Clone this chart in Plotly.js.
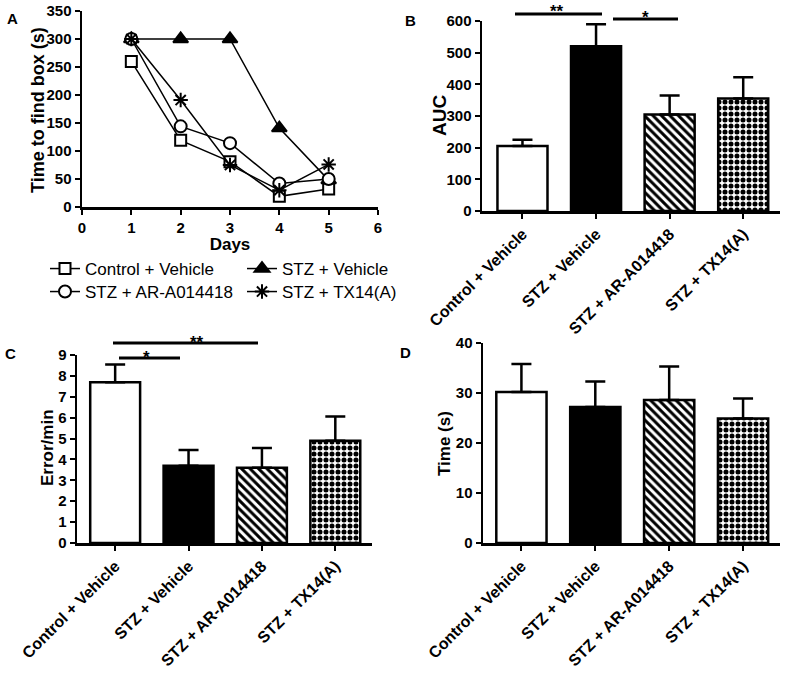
<!DOCTYPE html>
<html><head><meta charset="utf-8">
<script src="https://cdn.plot.ly/plotly-3.0.1.min.js"></script>
<style>html,body{margin:0;padding:0;background:#fff}#chart{width:785px;height:674px}</style>
</head><body><div id="chart"></div>
<script>
// ---- Panel A data ----
const days = [1, 2, 3, 4, 5];
const ctrlVehTime = [260, 119, 81, 19, 32];
const stzVehTime = [300, 300, 300, 141, 48];
const stzArTime = [300, 144, 114, 42, 50];
const stzTxTime = [300, 191, 75, 30, 76];

// ---- Panels B-D data ----
const groups = ['Control + Vehicle', 'STZ + Vehicle', 'STZ + AR-A014418', 'STZ + TX14(A)'];
const aucMean = [205, 520, 305, 355];
const aucErr = [20, 70, 60, 67];
const errMean = [7.7, 3.7, 3.6, 4.9];
const errErr = [0.85, 0.75, 0.95, 1.15];
const timeMean = [30.2, 27.2, 28.6, 24.9];
const timeErr = [5.6, 5.1, 6.7, 4.0];

// fill colour (plain bars) or pattern ink colour (patterned bars)
const barColors = ['white', 'black', 'black', 'black'];
const barPatterns = ['', '', '\\', '.'];

const W = 785, H = 674;
const fx = p => p / W;
const fy = p => 1 - p / H;
const FONT = 'Liberation Sans, Arial, Helvetica, sans-serif';
const tickFont = {family: FONT, size: 15, color: 'black', weight: 'bold'};

function lineTrace(name, y, symbol, color, legend, size) {
  return {
    type: 'scatter', mode: 'lines+markers', name: name, x: days, y: y,
    xaxis: 'x', yaxis: 'y', legend: legend,
    line: {color: 'black', width: 1.5},
    marker: {symbol: symbol, size: size || 11, color: color, line: {color: 'black', width: 2}}
  };
}

function barTrace(means, errs, xa, ya) {
  return {
    type: 'bar', x: groups, y: means, xaxis: xa, yaxis: ya, width: 0.68, showlegend: false,
    marker: {
      color: barColors,
      line: {color: 'black', width: 2.5},
      pattern: {shape: barPatterns, size: [6, 6, 6, 6], solidity: [0.5, 0.5, 0.5, 0.55], fillmode: 'replace'}
    },
    error_y: {type: 'data', symmetric: false, array: errs, arrayminus: errs.map(() => 0),
      color: 'black', thickness: 2.5, width: 10}
  };
}

const traces = [
  lineTrace('Control + Vehicle', ctrlVehTime, 'square', 'white', 'legend', 11),
  lineTrace('STZ + Vehicle', stzVehTime, 'triangle-up', 'black', 'legend', 13),
  lineTrace('STZ + AR-A014418', stzArTime, 'circle', 'white', 'legend2', 12),
  lineTrace('STZ + TX14(A)', stzTxTime, 'asterisk-open', 'black', 'legend2', 12),
  barTrace(aucMean, aucErr, 'x2', 'y2'),
  barTrace(errMean, errErr, 'x3', 'y3'),
  barTrace(timeMean, timeErr, 'x4', 'y4')
];

function axisBase() {
  return {showline: true, linecolor: 'black', linewidth: 2.5, ticks: 'outside', ticklen: 5,
    tickwidth: 2, tickcolor: 'black', showgrid: false, zeroline: false, tickfont: tickFont,
    fixedrange: true, automargin: false};
}
function catX(domain, anchor, r0) {
  return Object.assign(axisBase(), {domain: domain, anchor: anchor, type: 'category',
    range: [r0, 3.5], tickangle: -45, tickfont: {family: FONT, size: 16, color: 'black', weight: 'bold'}});
}
function ann(text, px, py, size, angle) {
  return {text: text, x: fx(px), y: fy(py), xref: 'paper', yref: 'paper', showarrow: false,
    xanchor: 'center', yanchor: 'middle', textangle: angle || 0,
    font: {family: FONT, size: size, weight: 'bold', color: 'black'}};
}
function sigLine(x0, x1, y) {
  return {type: 'line', xref: 'paper', yref: 'paper', x0: fx(x0), x1: fx(x1), y0: fy(y), y1: fy(y),
    line: {color: 'black', width: 3}};
}

const legendFont = {family: FONT, size: 17, color: 'black'};
const layout = {
  width: W, height: H, margin: {l: 0, r: 0, t: 0, b: 0},
  paper_bgcolor: 'white', plot_bgcolor: 'rgba(0,0,0,0)',
  showlegend: true,
  xaxis: Object.assign(axisBase(), {domain: [fx(82), fx(378)], anchor: 'y', range: [0, 6], dtick: 1, tick0: 0,
    title: {text: 'Days', font: {family: FONT, size: 17, color: 'black', weight: 'bold'}, standoff: 1}}),
  yaxis: Object.assign(axisBase(), {domain: [fy(207), fy(11)], anchor: 'x', range: [0, 350], dtick: 50}),
  xaxis2: catX([fx(482), fx(780)], 'y2', -0.55),
  yaxis2: Object.assign(axisBase(), {domain: [fy(211), fy(21)], anchor: 'x2', range: [0, 600], dtick: 100}),
  xaxis3: catX([fx(77), fx(372)], 'y3', -0.52),
  yaxis3: Object.assign(axisBase(), {domain: [fy(543), fy(355)], anchor: 'x3', range: [0, 9], dtick: 1}),
  xaxis4: catX([fx(483), fx(780)], 'y4', -0.52),
  yaxis4: Object.assign(axisBase(), {domain: [fy(543), fy(343)], anchor: 'x4', range: [0, 40], dtick: 10}),
  legend: {orientation: 'h', x: fx(45), y: fy(251), xanchor: 'left', yanchor: 'top',
    font: legendFont, entrywidth: 152, entrywidthmode: 'pixels',
    bgcolor: 'rgba(0,0,0,0)', borderwidth: 0},
  legend2: {orientation: 'h', x: fx(45), y: fy(274), xanchor: 'left', yanchor: 'top',
    font: legendFont, entrywidth: 152, entrywidthmode: 'pixels',
    bgcolor: 'rgba(0,0,0,0)', borderwidth: 0},
  shapes: [
    sigLine(515, 602, 14),
    sigLine(613, 678, 19),
    sigLine(113, 258, 343),
    sigLine(119, 180, 358)
  ],
  annotations: [
    ann('A', 12, 18, 15), ann('B', 410, 20, 15), ann('C', 10, 353, 15), ann('D', 405, 352, 15),
    ann('**', 557, 12, 17), ann('*', 645, 17, 17),
    ann('**', 197, 342, 17), ann('*', 146, 357, 17),
    ann('Time to find box (s)', 38, 110, 18, -90),
    ann('AUC', 440, 116, 19, -90),
    ann('Error/min', 47, 448, 17, -90),
    ann('Time (s)', 444, 444, 17, -90)
  ]
};

function fixUrls(gd) {
  // make SVG pattern / clip references document-local
  gd.querySelectorAll('*').forEach(el => {
    ['fill', 'clip-path'].forEach(prop => {
      const v = el.style.getPropertyValue(prop) || el.getAttribute(prop) || '';
      if (v.indexOf('url(') >= 0) {
        const m = v.match(/#([^"')]+)/);
        if (m) {
          const nv = 'url(#' + m[1] + ')';
          if (el.style.getPropertyValue(prop)) el.style.setProperty(prop, nv);
          if (el.getAttribute(prop)) el.setAttribute(prop, nv);
        }
      }
    });
  });
}

Plotly.newPlot('chart', traces, layout, {staticPlot: true, displayModeBar: false}).then(fixUrls);
</script></body></html>
